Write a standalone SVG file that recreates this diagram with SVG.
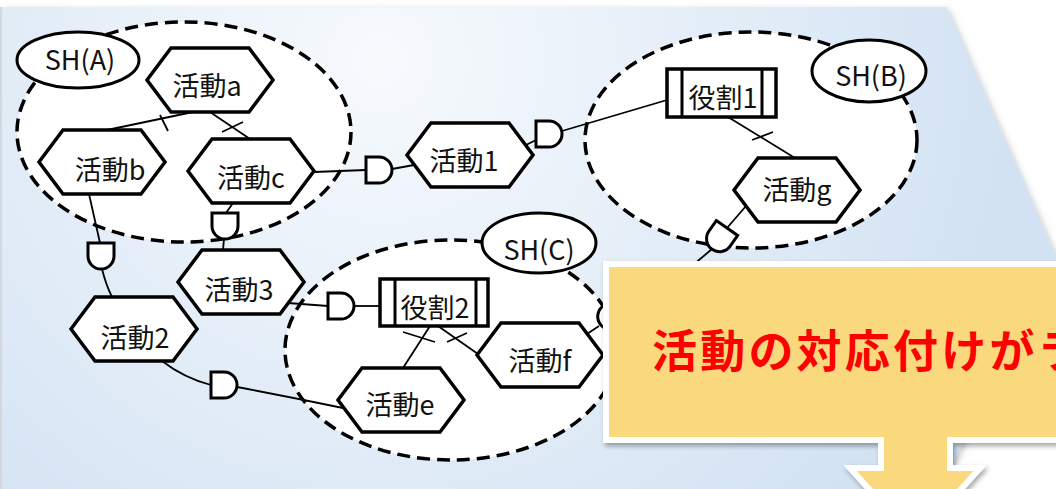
<svg xmlns="http://www.w3.org/2000/svg" width="1056" height="489" viewBox="0 0 1056 489">
<defs>
<radialGradient id="bg" gradientUnits="userSpaceOnUse" cx="380" cy="60" r="640">
<stop offset="0" stop-color="#f7fafd"/>
<stop offset="1" stop-color="#d2e2f3"/>
</radialGradient>
<filter id="sh" x="-10%" y="-10%" width="130%" height="130%">
<feDropShadow dx="2" dy="3" stdDeviation="2.5" flood-color="#000" flood-opacity="0.35"/>
</filter>
<filter id="psh" x="-5%" y="-5%" width="115%" height="115%">
<feDropShadow dx="3" dy="2" stdDeviation="3" flood-color="#6a7a8c" flood-opacity="0.35"/>
</filter>
<path id="dg" d="M0,-13 H13 A13,13 0 0 1 13,13 H0 Z"/>
<style>
.grp{fill:#fff;stroke:#000;stroke-width:3.5;stroke-dasharray:13 7}
.sh{fill:#fff;stroke:#000;stroke-width:3}
.hex{fill:#fff;stroke:#000;stroke-width:3.5;stroke-linejoin:miter}
.role{fill:#fff;stroke:#000;stroke-width:3.5}
.bar{stroke:#000;stroke-width:3}
.ln{fill:none;stroke:#000;stroke-width:1.8}
.d{fill:#fff;stroke:#000;stroke-width:3}
.lbl{font-family:"Noto Sans CJK JP","Liberation Sans",sans-serif;font-size:27px;fill:#111;text-anchor:middle}
.big{font-family:"Noto Sans CJK JP","Liberation Sans",sans-serif;font-size:45px;font-weight:bold;fill:#ff0000;letter-spacing:3.2px}
</style>
</defs>
<rect x="0" y="0" width="1056" height="489" fill="#fff"/>
<path d="M2,7 H946 L1058,262 L963,443 L940,489 H2 Z" fill="url(#bg)" filter="url(#psh)"/>
<line x1="1" y1="7" x2="1" y2="489" stroke="#c5ccd4" stroke-width="1.5"/>

<g id="group-A"><ellipse class="grp" cx="184" cy="132" rx="167" ry="110"/></g>
<g id="group-B"><ellipse class="grp" cx="751" cy="140" rx="166" ry="108"/></g>
<g id="group-C"><ellipse class="grp" cx="451" cy="350" rx="166" ry="110"/></g>

<g id="SH-A"><ellipse class="sh" cx="78" cy="60" rx="61" ry="28"/><text class="lbl" x="80" y="70">SH(A)</text></g>
<g id="SH-B"><ellipse class="sh" cx="869" cy="71" rx="57" ry="31"/><text class="lbl" x="871" y="86">SH(B)</text></g>
<g id="SH-C"><ellipse class="sh" cx="539" cy="243" rx="57" ry="30"/><text class="lbl" x="539" y="260">SH(C)</text></g>

<g id="connectors">
<path class="ln" d="M193,112 L107,130"/>
<path class="ln" d="M160,115 L168,131"/>
<path class="ln" d="M210,112 L250,139"/>
<path class="ln" d="M222,132 L243,122"/>
<path class="ln" d="M314,172 L366,170"/>
<path class="ln" d="M392,169 L414,165"/>
<path class="ln" d="M526,145 L536,140"/>
<path class="ln" d="M562,131 L667,100"/>
<path class="ln" d="M728,117 L795,158"/>
<path class="ln" d="M752,140 L773,132"/>
<path class="ln" d="M746,206 L727,228"/>
<path class="ln" d="M712,249 L680,276"/>
<path class="ln" d="M89,194 L100,243"/>
<path class="ln" d="M102,269 Q106,285 112,297"/>
<path class="ln" d="M233,203 L226,213"/>
<path class="ln" d="M224,239 L223,250"/>
<path class="ln" d="M288,303 L328,306"/>
<path class="ln" d="M354,306 L380,306"/>
<path class="ln" d="M430,326 L403,368"/>
<path class="ln" d="M403,332 L435,342"/>
<path class="ln" d="M438,326 L478,354"/>
<path class="ln" d="M447,342 L467,333"/>
<path class="ln" d="M162,361 Q184,378 211,385"/>
<path class="ln" d="M237,387 Q290,397 343,408"/>
<path class="ln" d="M587,334 L599,326"/>
<use href="#dg" class="d" transform="translate(366,170)"/>
<use href="#dg" class="d" transform="translate(536,134)"/>
<use href="#dg" class="d" transform="translate(101,243) rotate(90)"/>
<use href="#dg" class="d" transform="translate(225,213) rotate(90)"/>
<use href="#dg" class="d" transform="translate(211,385)"/>
<use href="#dg" class="d" transform="translate(328,306)"/>
<use href="#dg" class="d" transform="translate(727,228) rotate(125)"/>
<use href="#dg" class="d" transform="translate(622,310) rotate(150)"/>
</g>

<g id="act-a"><polygon class="hex" points="147,80 171,48 249,48 273,80 249,112 171,112"/><text class="lbl" x="207" y="96">活動a</text></g>
<g id="act-b"><polygon class="hex" points="39,162 63,130 141,130 165,162 141,194 63,194"/><text class="lbl" x="110" y="180">活動b</text></g>
<g id="act-c"><polygon class="hex" points="188,171 212,139 290,139 314,171 290,203 212,203"/><text class="lbl" x="251" y="188">活動c</text></g>
<g id="act-1"><polygon class="hex" points="407,155 431,123 509,123 533,155 509,187 431,187"/><text class="lbl" x="464" y="171">活動1</text></g>
<g id="act-g"><polygon class="hex" points="734,190 758,158 836,158 860,190 836,222 758,222"/><text class="lbl" x="797" y="200">活動g</text></g>
<g id="act-2"><polygon class="hex" points="71,329 95,297 173,297 197,329 173,361 95,361"/><text class="lbl" x="135" y="348">活動2</text></g>
<g id="act-3"><polygon class="hex" points="178,282 202,250 280,250 304,282 280,314 202,314"/><text class="lbl" x="239" y="300">活動3</text></g>
<g id="act-e"><polygon class="hex" points="338,400 362,368 440,368 464,400 440,432 362,432"/><text class="lbl" x="400" y="415">活動e</text></g>
<g id="act-f"><polygon class="hex" points="477,355 501,323 579,323 603,355 579,387 501,387"/><text class="lbl" x="540" y="371">活動f</text></g>

<g id="role-1"><rect class="role" x="667" y="69" width="109" height="48"/><line class="bar" x1="682" y1="69" x2="682" y2="117"/><line class="bar" x1="762" y1="69" x2="762" y2="117"/><text class="lbl" x="723" y="108">役割1</text></g>
<g id="role-2"><rect class="role" x="380" y="279" width="108" height="47"/><line class="bar" x1="395" y1="279" x2="395" y2="326"/><line class="bar" x1="476" y1="279" x2="476" y2="326"/><text class="lbl" x="435" y="318">役割2</text></g>

<g id="callout">
<path d="M606,264 H1070 V440 H950 V468 H980 L915,540 L850,468 H881 V440 H606 Z" fill="#f9d87e" stroke="#fff" stroke-width="6" stroke-linejoin="miter" filter="url(#sh)"/>
<text class="big" x="652" y="368">活動の対応付けがラ</text>
</g>
</svg>
